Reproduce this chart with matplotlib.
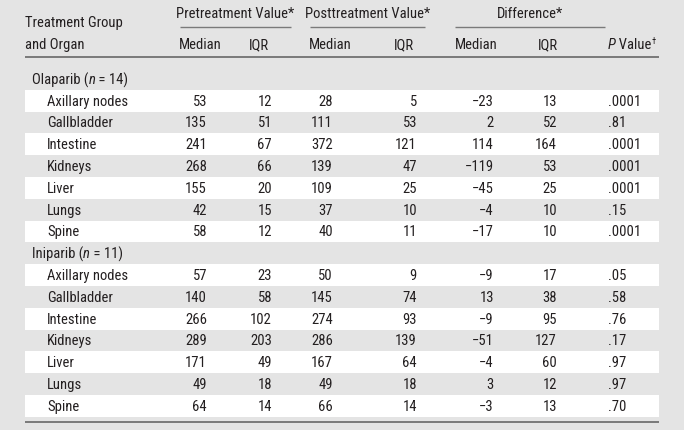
import matplotlib
matplotlib.use("Agg")
import matplotlib.pyplot as plt
from matplotlib import font_manager

# table values
organs = ["Axillary nodes", "Gallbladder", "Intestine", "Kidneys", "Liver", "Lungs", "Spine"]
groups = ["Olaparib", "Iniparib"]
group_n = [14, 11]

ola_pre_med = [53, 135, 241, 268, 155, 42, 58]
ola_pre_iqr = [12, 51, 67, 66, 20, 15, 12]
ola_post_med = [28, 111, 372, 139, 109, 37, 40]
ola_post_iqr = [5, 53, 121, 47, 25, 10, 11]
ola_diff_med = [-23, 2, 114, -119, -45, -4, -17]
ola_diff_iqr = [13, 52, 164, 53, 25, 10, 10]
ola_p = [".0001", ".81", ".0001", ".0001", ".0001", ".15", ".0001"]

ini_pre_med = [57, 140, 266, 289, 171, 49, 64]
ini_pre_iqr = [23, 58, 102, 203, 49, 18, 14]
ini_post_med = [50, 145, 274, 286, 167, 49, 66]
ini_post_iqr = [9, 74, 93, 139, 64, 18, 14]
ini_diff_med = [-9, 13, -9, -51, -4, 3, -3]
ini_diff_iqr = [17, 38, 95, 127, 60, 12, 13]
ini_p = [".05", ".58", ".76", ".17", ".97", ".97", ".70"]

span_labels = ["Pretreatment Value*", "Posttreatment Value*", "Difference*"]
sub_labels = ["Median", "IQR", "Median", "IQR", "Median", "IQR"]

# layout (pixels)
W, H = 684, 431
BG = "#e4e4e4"
INK = "#231f20"
LINE = "#7a7a7a"
left, right = 25, 659
num_right = [207, 272, 333, 417, 494, 557]
sub_center = [200, 259, 330, 404, 476, 548]
p_left = 608
spans = [(180, 291), (310, 425), (455, 605)]
row_top = 69
row_h = 21.8
fs = 10.5


def pick_font():
    for name in ["Liberation Sans Narrow", "Roboto Condensed", "Liberation Sans"]:
        try:
            font_manager.findfont(name, fallback_to_default=False)
            return name
        except Exception:
            pass
    return "DejaVu Sans"


FONT = pick_font()
plt.rcParams["font.family"] = [FONT, "DejaVu Sans"]

fig = plt.figure(figsize=(W / 100, H / 100), dpi=100, facecolor=BG)
ax = fig.add_axes([0, 0, 1, 1])
ax.set_xlim(0, W)
ax.set_ylim(H, 0)
ax.axis("off")
ax.set_facecolor(BG)

renderer = fig.canvas.get_renderer()


def pieces(x, y, parts, **kw):
    # draw text pieces one after another, parts = [(text, style)]
    for txt, style in parts:
        t = ax.text(x, y, txt, ha="left", va="center", fontsize=fs, color=INK,
                    style=style, **kw)
        bb = t.get_window_extent(renderer=renderer)
        x += bb.width
    return x


def fmt(v):
    return str(v).replace("-", "\u2212") if v >= 0 else "\u2212" + str(-v)


# header
ax.text(left, 23, "Treatment Group", ha="left", va="center", fontsize=fs, color=INK)
ax.text(left, 45, "and Organ", ha="left", va="center", fontsize=fs, color=INK)
for lab, (a, b) in zip(span_labels, spans):
    ax.text((a + b) / 2, 14, lab, ha="center", va="center", fontsize=fs, color=INK)
    ax.plot([a, b], [27.5, 27.5], color=LINE, lw=1.0, solid_capstyle="butt")
for lab, cx in zip(sub_labels, sub_center):
    ax.text(cx, 45, lab, ha="center", va="center", fontsize=fs, color=INK)
xe = pieces(p_left, 45, [("P", "italic"), ("\u2009Value", "normal")])
ax.text(xe + 0.5, 41, "\u2020", ha="left", va="center", fontsize=fs * 0.6, color=INK)
ax.plot([left, right], [58.3, 58.3], color=LINE, lw=1.4, solid_capstyle="butt")

# body
data = [
    (ola_pre_med, ola_pre_iqr, ola_post_med, ola_post_iqr, ola_diff_med, ola_diff_iqr, ola_p),
    (ini_pre_med, ini_pre_iqr, ini_post_med, ini_post_iqr, ini_diff_med, ini_diff_iqr, ini_p),
]
r = 0
for g, n, cols in zip(groups, group_n, data):
    y0 = row_top + r * row_h
    pieces(32, y0 + row_h / 2, [(g + " (", "normal"), ("n", "italic"), (" = " + str(n) + ")", "normal")])
    r += 1
    for i, organ in enumerate(organs):
        y0 = row_top + r * row_h
        yc = y0 + row_h / 2
        if i % 2 == 0:
            ax.add_patch(plt.Rectangle((left, y0), right - left, row_h, facecolor="white",
                                       edgecolor="none", zorder=0))
        ax.text(47, yc, organ, ha="left", va="center", fontsize=fs, color=INK)
        for xr, col in zip(num_right, cols[:6]):
            ax.text(xr, yc, fmt(col[i]), ha="right", va="center", fontsize=fs, color=INK)
        ax.text(p_left, yc, cols[6][i], ha="left", va="center", fontsize=fs, color=INK)
        r += 1

ax.plot([left, right], [422.7, 422.7], color=LINE, lw=1.4, solid_capstyle="butt")

fig.savefig("out.png", dpi=100, facecolor=BG)
